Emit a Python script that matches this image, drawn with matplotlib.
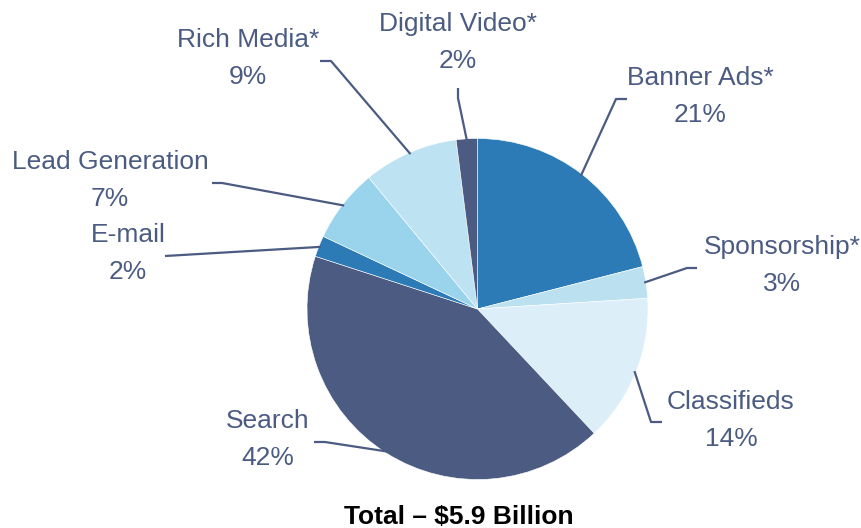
import numpy as np
import matplotlib
matplotlib.use('Agg')
import matplotlib.pyplot as plt

labels = ['Banner Ads*', 'Sponsorship*', 'Classifieds', 'Search', 'E-mail',
          'Lead Generation', 'Rich Media*', 'Digital Video*']
shares = [21, 3, 14, 42, 2, 7, 9, 2]
colors = ['#2C7BB6', '#BBE1F1', '#DCEFF8', '#4B5B82', '#2C7BB6',
          '#99D3EC', '#BDE2F1', '#4B5B82']
total_text = 'Total \u2013 $5.9 Billion'

W, H = 862, 528
textcol = '#4B5B82'

# label layout in image pixels: (center x, name y), then leader path points
label_pos = [(700, 78), (782, 247), (731, 402), (268, 421), (128, 235),
             (110, 162), (248, 40), (458, 24)]
leaders = [[(627, 99), (616, 99)],
           [(697, 268), (687, 268)],
           [(662, 422), (651, 422)],
           [(314, 442), (325, 442)],
           [(165, 256)],
           [(212, 183), (222, 183)],
           [(320, 61), (331, 61)],
           [(458, 88), (458, 98)]]

plt.rcParams['font.family'] = ['Liberation Sans', 'DejaVu Sans']

fig = plt.figure(figsize=(W / 100, H / 100), dpi=100)
ax = fig.add_axes([0, 0, 1, 1])

cx, cy, r = 477.5, H - 309, 170.5
wedges, _ = ax.pie(shares, colors=colors, startangle=90, counterclock=False,
                   center=(cx, cy), radius=r,
                   wedgeprops=dict(edgecolor='white', linewidth=0.4))
ax.set_xlim(0, W)
ax.set_ylim(0, H)
ax.axis('off')

for w, name, val, (lx, ly), path in zip(wedges, labels, shares, label_pos, leaders):
    mid = np.deg2rad((w.theta1 + w.theta2) / 2)
    px = cx + 0.99 * r * np.cos(mid)
    py = cy + 0.99 * r * np.sin(mid)
    xs = [p[0] for p in path] + [px]
    ys = [H - p[1] for p in path] + [py]
    ax.plot(xs, ys, color=textcol, lw=1.6, solid_capstyle='butt')
    ax.text(lx, H - ly, name, ha='center', va='center', fontsize=19, color=textcol)
    ax.text(lx, H - ly - 37, f'{val}%', ha='center', va='center', fontsize=19, color=textcol)

ax.text(459, H - 524, total_text, ha='center', va='baseline', fontsize=19,
        fontweight='bold', color='black')

fig.savefig('out.png', dpi=100)
